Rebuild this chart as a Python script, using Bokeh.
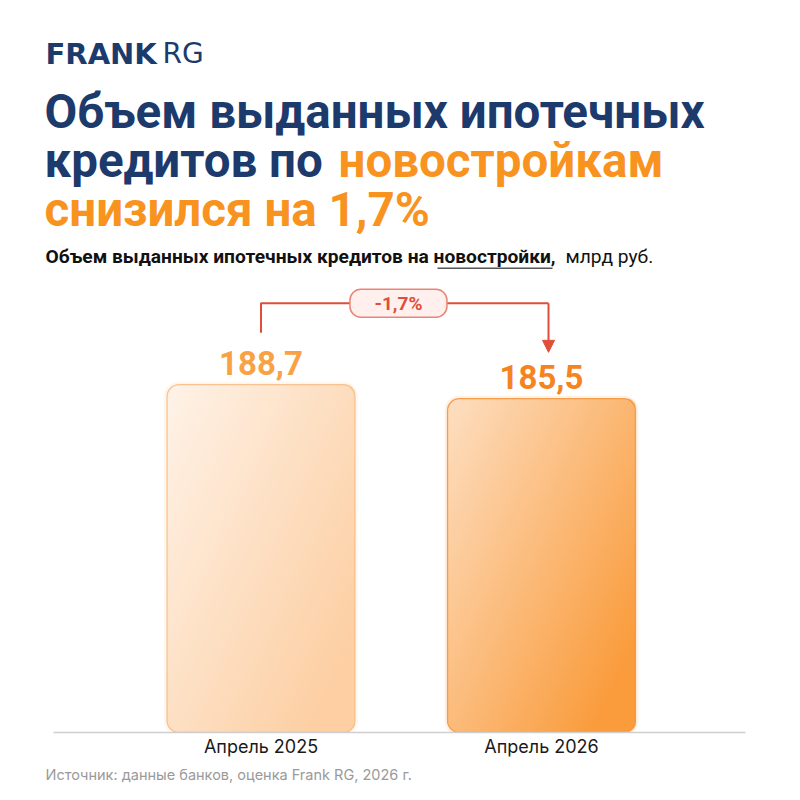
import numpy as np
from bokeh.plotting import figure
from bokeh.models import Range1d, Label, FixedTicker, Arrow, NormalHead, BoxAnnotation, Title
from bokeh.core.properties import value
from bokeh.embed import file_html
from bokeh.resources import INLINE

# ---------------- data ----------------
categories = ["Апрель 2025", "Апрель 2026"]
values = [188.7, 185.5]
value_labels = ["188,7", "185,5"]
change_label = "-1,7%"

logo_bold = "FRANK"
logo_light = "RG"
title_line1 = "Объем выданных ипотечных"
title_line2a = "кредитов по"
title_line2b = "новостройкам"
title_line3 = "снизился на 1,7%"
subtitle_bold = "Объем выданных ипотечных кредитов на новостройки,"
subtitle_light = "млрд руб."
source_text = "Источник: данные банков, оценка Frank RG, 2026 г."

# ---------------- layout / style ----------------
W, H = 800, 800
BASE_PX = 732          # frame bottom (baseline of bars)
X0_PX = 260.5          # pixel position of first category
PX_PER_X = 280.5
PX_PER_Y = 4.375
Y0 = 109.2             # axis start value
BASELINE_FIX = 0.34    # empirical shift for alphabetic baseline

NAVY = "#1D3A6C"
ORANGE = "#F7931E"
RED = "#E04E3A"

x_start = -X0_PX / PX_PER_X
x_end = (W - X0_PX) / PX_PER_X
y_end = Y0 + BASE_PX / PX_PER_Y

p = figure(width=W, height=H, x_range=Range1d(x_start, x_end), y_range=Range1d(Y0, y_end),
           output_backend="svg", toolbar_location=None, y_axis_location=None,
           min_border_left=0, min_border_right=0, min_border_top=0,
           min_border_bottom=H - BASE_PX,
           background_fill_color="white", border_fill_color="white",
           outline_line_color=None)
p.grid.visible = False

xs = list(range(len(categories)))
bar_w = 0.67
radius = 12
grad_colors = [("#FFF5EC", "#FDCFA3"), ("#FEE3CA", "#FA9C3C")]
edge_colors = ["#F9BC86", "#F5933C"]


def hex2rgb(h):
    h = h.lstrip("#")
    return np.array([int(h[i:i + 2], 16) for i in (0, 2, 4)], dtype=float)


def gradient_image(val, c0, c1):
    w = int(round(bar_w * PX_PER_X))
    h = int(round((val - Y0) * PX_PER_Y))
    u = (np.arange(w) + 0.5)[None, :] / w
    v = (np.arange(h) + 0.5)[:, None] / h
    t = np.clip(0.05 + 0.58 * u + 0.5 * v, 0, 1.0)
    a, b = hex2rgb(c0), hex2rgb(c1)
    rgb = a[None, None, :] + (b - a)[None, None, :] * t[:, :, None]
    px = np.arange(w)[None, :] + 0.5
    py = np.arange(h)[:, None] + 0.5
    cx = np.clip(px, radius, w - radius)
    cy = np.clip(py, radius, h - radius)
    d = np.sqrt((px - cx) ** 2 + (py - cy) ** 2)
    alpha = np.clip(radius - d + 0.5, 0, 1)
    img = np.empty((h, w), dtype=np.uint32)
    view = img.view(dtype=np.uint8).reshape((h, w, 4))
    view[..., 0] = rgb[..., 0].astype(np.uint8)
    view[..., 1] = rgb[..., 1].astype(np.uint8)
    view[..., 2] = rgb[..., 2].astype(np.uint8)
    view[..., 3] = (alpha * 255).astype(np.uint8)
    return np.flipud(img)


# soft glow
p.vbar(x=xs, top=values, bottom=Y0, width=bar_w, fill_alpha=0,
       line_color=edge_colors, line_alpha=0.12, line_width=6, border_radius=radius)
for xi, val, (c0, c1) in zip(xs, values, grad_colors):
    p.image_rgba(image=[gradient_image(val, c0, c1)], x=xi - bar_w / 2, y=Y0,
                 dw=bar_w, dh=val - Y0)
p.vbar(x=xs, top=values, bottom=Y0, width=bar_w, fill_alpha=0,
       line_color=edge_colors, line_alpha=0.9, line_width=1.3, border_radius=radius)

# value labels
p.text(x=xs, y=values, text=value_labels, text_align="center", text_baseline="alphabetic",
       y_offset=-(10 + BASELINE_FIX * 33), text_font_size="33px", text_font_style="bold",
       text_color=["#F8A145", "#F5841F"], text_font=value("Roboto"))

# change bracket
x_left, x_right = xs[0], xs[1] + 0.025
y_br = max(values) + 18.6
y_l0 = values[0] + 11.9
y_tip = values[1] + 10.6
p.line(x=[x_left, x_left, x_right, x_right], y=[y_l0, y_br, y_br, y_br],
       line_color=RED, line_width=2)
p.add_layout(Arrow(end=NormalHead(size=12, fill_color=RED, line_color=RED, line_width=1),
                   x_start=x_right, y_start=y_br, x_end=x_right, y_end=y_tip,
                   line_color=RED, line_width=2))
x_mid = (xs[0] + xs[1]) / 2 - 0.01
p.rect(x=[x_mid], y=[y_br], width=97, height=28, width_units="screen", height_units="screen",
       fill_color="#FFF0EE", line_color="#EA8478", line_width=1.5, border_radius=11)
p.text(x=[x_mid], y=[y_br], text=[change_label], text_align="center", text_baseline="middle",
       text_font_size="19px", text_color=RED, text_font=value("Roboto"), text_font_style="bold")

# axis
p.xaxis.ticker = FixedTicker(ticks=xs)
p.xaxis.major_label_overrides = {i: c for i, c in zip(xs, categories)}
p.xaxis.bounds = ((53 - X0_PX) / PX_PER_X, (745 - X0_PX) / PX_PER_X)
p.xaxis.axis_line_color = "#CFCFCF"
p.xaxis.axis_line_width = 1.5
p.xaxis.major_tick_line_color = None
p.xaxis.minor_tick_line_color = None
p.xaxis.major_tick_in = 0
p.xaxis.major_tick_out = 0
p.xaxis.major_label_standoff = 3
p.xaxis.major_label_text_font = "Inter"
p.xaxis.major_label_text_font_size = "18px"
p.xaxis.major_label_text_color = "#1A1A1A"

p.add_layout(Title(text=source_text, align="left", offset=45, text_font_size="14.5px",
                   text_color="#9A9A9A", text_font="Inter", text_font_style="normal",
                   standoff=8), "below")


def add_text(txt, px, py, size, color, font, bold=False, align="left"):
    p.add_layout(Label(x=px, y=BASE_PX - py + BASELINE_FIX * size, x_units="screen",
                       y_units="screen", text=txt,
                       text_font=font, text_font_size=f"{size}px", text_color=color,
                       text_font_style="bold" if bold else "normal",
                       text_align=align, text_baseline="alphabetic"))


add_text(logo_bold, 45, 63, 29, NAVY, "DejaVu Sans", bold=True)
add_text(logo_light, 162, 63, 28, NAVY, "DejaVu Sans")
add_text(title_line1, 44, 128, 47.5, NAVY, "Roboto", bold=True)
add_text(title_line2a, 44, 177, 47.5, NAVY, "Roboto", bold=True)
add_text(title_line2b, 338, 177, 47.5, ORANGE, "Roboto", bold=True)
add_text(title_line3, 44, 226, 47.5, ORANGE, "Roboto", bold=True)
add_text(subtitle_bold, 45, 263, 19.2, "#111111", "Roboto", bold=True)
add_text(subtitle_light, 565, 263, 19.2, "#111111", "Roboto")
p.add_layout(BoxAnnotation(left=437, right=552, bottom=BASE_PX - 268.5, top=BASE_PX - 267,
                           left_units="screen", right_units="screen",
                           bottom_units="screen", top_units="screen",
                           fill_color="#555555", fill_alpha=1, line_alpha=0))

open("out.html", "w").write(file_html(p, INLINE))
